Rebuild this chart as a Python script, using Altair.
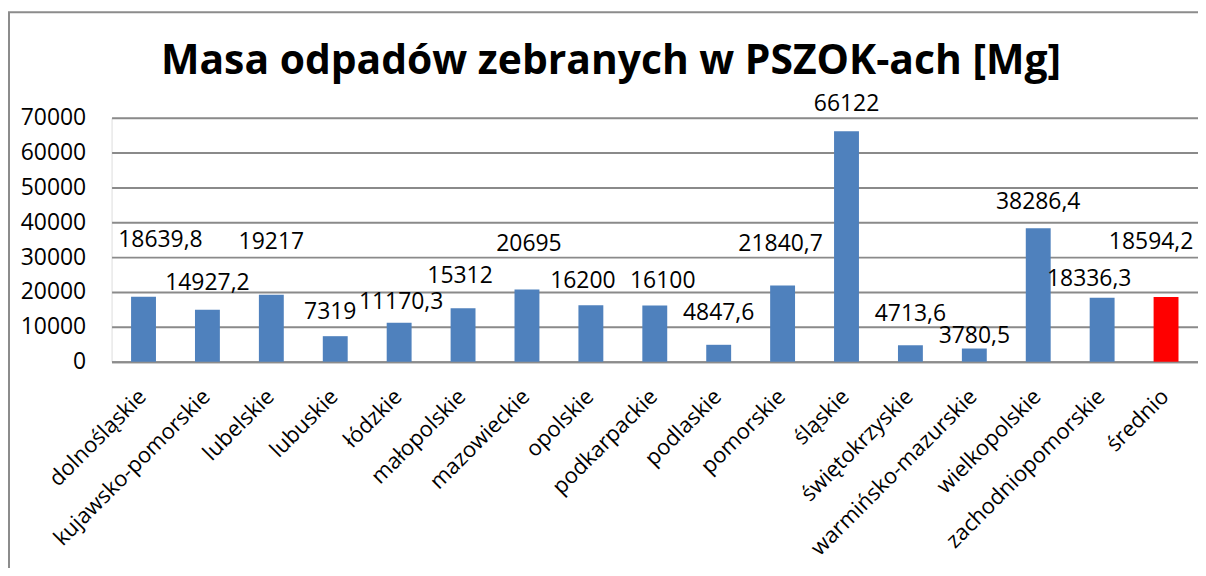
import altair as alt
import pandas as pd

categories = ["dolnośląskie", "kujawsko-pomorskie", "lubelskie", "lubuskie", "łódzkie",
              "małopolskie", "mazowieckie", "opolskie", "podkarpackie", "podlaskie",
              "pomorskie", "śląskie", "świętokrzyskie", "warmińsko-mazurskie",
              "wielkopolskie", "zachodniopomorskie", "średnio"]
values = [18639.8, 14927.2, 19217, 7319, 11170.3, 15312, 20695, 16200, 16100, 4847.6,
          21840.7, 66122, 4713.6, 3780.5, 38286.4, 18336.3, 18594.2]
value_labels = ["18639,8", "14927,2", "19217", "7319", "11170,3", "15312", "20695", "16200",
                "16100", "4847,6", "21840,7", "66122", "4713,6", "3780,5", "38286,4",
                "18336,3", "18594,2"]
y_ticks = [0, 10000, 20000, 30000, 40000, 50000, 60000, 70000]

# label placement (data units for vertical position, pixel nudge horizontally)
label_y = [34900, 22500, 34300, 14300, 17100, 24500, 33900, 23000, 23000, 13900,
           33900, 73800, 13800, 7300, 45700, 23800, 34300]
label_dx = [17, 0, 0, -5, 2, -3, 2, -8, 8, 0, -2, 0, 0, 0, 0, -13, -15]

df = pd.DataFrame({
    "region": categories,
    "value": values,
    "label": value_labels,
    "label_y": label_y,
    "kind": ["region"] * (len(categories) - 1) + ["avg"],
})

FONT = "Open Sans"
W, H = 1091, 245

y_scale = alt.Scale(domain=[0, 70000], nice=False)
x_scale = alt.Scale(paddingInner=0, paddingOuter=0)

x_axis = alt.Axis(labelAngle=-45, labelFont=FONT, labelFontSize=22,
                  labelColor="#000000", ticks=False, labelPadding=24,
                  labelOffset=-8, domainColor="#8c8c8c", domainWidth=2,
                  labelLimit=400, labelOverlap=False, title=None)
y_axis = alt.Axis(values=y_ticks, format="d", labelFont=FONT, labelFontSize=23,
                  labelColor="#000000", ticks=False, domain=False,
                  labelOverlap=False, labelPadding=26, title=None,
                  gridColor="#8a8a8a", gridWidth=2)

bars = alt.Chart(df).mark_bar(size=25).encode(
    x=alt.X("region:N", sort=categories, title=None, scale=x_scale, axis=x_axis),
    y=alt.Y("value:Q", scale=y_scale, title=None, axis=y_axis),
    color=alt.Color("kind:N", scale=alt.Scale(domain=["region", "avg"],
                                              range=["#4f81bd", "#ff0000"]), legend=None),
)

text_layers = []
for i, cat in enumerate(categories):
    t = alt.Chart(df[df.region == cat]).mark_text(
        font=FONT, fontSize=23, color="#000000", baseline="middle",
        align="center", dx=int(label_dx[i])).encode(
        x=alt.X("region:N", sort=categories, title=None, scale=x_scale, axis=x_axis),
        y=alt.Y("label_y:Q", scale=y_scale, title=None, axis=y_axis),
        text="label:N",
    )
    text_layers.append(t)

frame = alt.Chart(df.head(1)).mark_rect(fill=None, stroke="#8c8c8c", strokeWidth=2).encode(
    x=alt.value(-103), x2=alt.value(1200), y=alt.value(-106), y2=alt.value(600),
)

chart = alt.layer(frame, bars, *text_layers).properties(
    width=W, height=H,
    title=alt.TitleParams("Masa odpadów zebranych w PSZOK-ach [Mg]", font=FONT,
                          fontSize=41, fontWeight="bold", color="#000000",
                          anchor="middle", frame="group", dx=-44, offset=-104,
                          baseline="alphabetic"),
    padding={"left": 104, "top": 109, "right": 0, "bottom": 206},
    autosize=alt.AutoSizeParams(type="none"),
).configure_view(stroke="#8c8c8c", strokeWidth=2).configure(background="#ffffff")

chart.save("out.html", embed_options={"renderer": "svg", "actions": False})
